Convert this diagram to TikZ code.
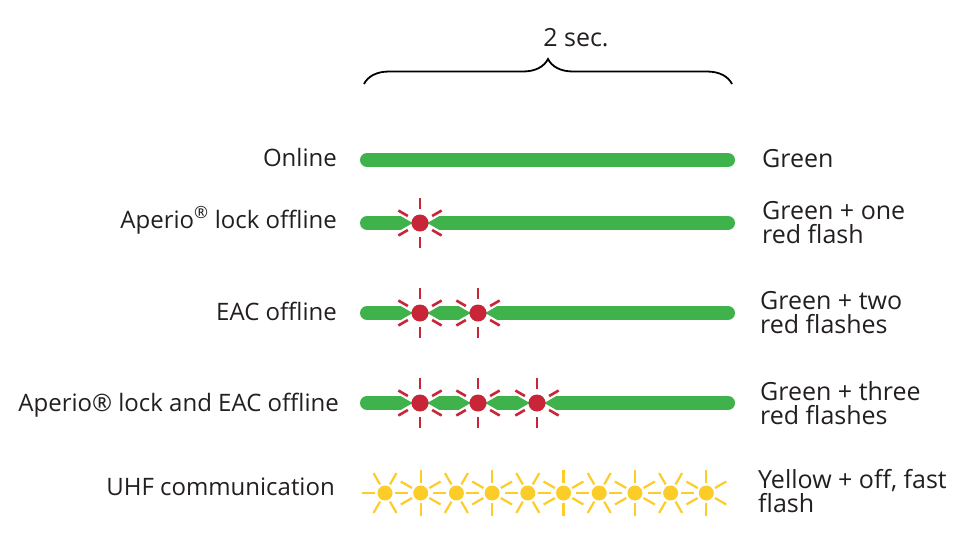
\documentclass[tikz,border=0pt]{standalone}
\usepackage{fontspec}
\setmainfont{Open Sans}
\usetikzlibrary{decorations.pathreplacing}
\definecolor{ledgreen}{RGB}{64,178,76}
\definecolor{ledred}{RGB}{200,38,56}
\definecolor{ledyellow}{RGB}{252,204,40}
\definecolor{ink}{RGB}{35,31,32}
\begin{document}
\begin{tikzpicture}[x=1pt, y=-1pt, font=\fontsize{24}{24}\selectfont, text=ink]
    \tikzset{
        bar/.style={ledgreen, line width=14pt, line cap=round},
        lbl/.style={anchor=base east, inner sep=0pt},
        state/.style={anchor=west, align=left, inner sep=0pt, font=\fontsize{25}{24}\selectfont},
        redflash/.pic={
            \foreach \a in {30,90,...,330} \draw[white, line width=7pt] (\a:8) -- (\a:27);
            \foreach \a in {30,90,...,330} \draw[ledred, line width=2.6pt] (\a:14) -- (\a:25);
            \fill[ledred] (0,0) circle (8.5pt);
        },
        sunflash/.pic={
            \foreach \a in {0,60,...,300} \draw[ledyellow, line width=2.2pt] (\a+#1:10) -- (\a+#1:23);
            \fill[ledyellow] (0,0) circle (7.5pt);
        }
    }
    \useasboundingbox (0,0) rectangle (961,555);
    \coordinate (bl) at (364,84);
    \coordinate (br) at (732,84);
    \draw[decorate, decoration={brace, amplitude=25pt}, line width=1.8pt] (bl) -- (br);
    \node[font=\fontsize{25}{25}\selectfont] (period) at (576,38) {2 sec.};
    % green bars
    \foreach \y in {160,223,313,403} \draw[bar] (367,\y) -- (728,\y);
    \node[lbl] (online) at (337,166) {Online};
    \node[state] (green) at (762,159) {Green};
    \node[lbl] (lock) at (337,228) {Aperio\textsuperscript{®} lock offline};
    \node[state] (one) at (762,223) {Green + one\\red flash};
    \pic at (420,223) {redflash};
    \node[lbl] (eac) at (337,320) {EAC offline};
    \node[state] (two) at (760,313) {Green + two\\red flashes};
    \foreach \x in {420,478} \pic at (\x,313) {redflash};
    \node[lbl] (both) at (339,411) {Aperio® lock and EAC offline};
    \node[state] (three) at (760,403) {Green + three\\red flashes};
    \foreach \x in {420,478,537} \pic at (\x,403) {redflash};
    % yellow flashing
    \node[lbl] (uhf) at (335,495) {UHF communication};
    \node[state] (yellow) at (758,491) {Yellow + off, fast\\flash};
    \foreach \i [evaluate=\i as \o using {int(30*mod(\i,2))}] in {0,...,9}
        \pic at (385+35.7*\i,493) {sunflash=\o};
\end{tikzpicture}
\end{document}
